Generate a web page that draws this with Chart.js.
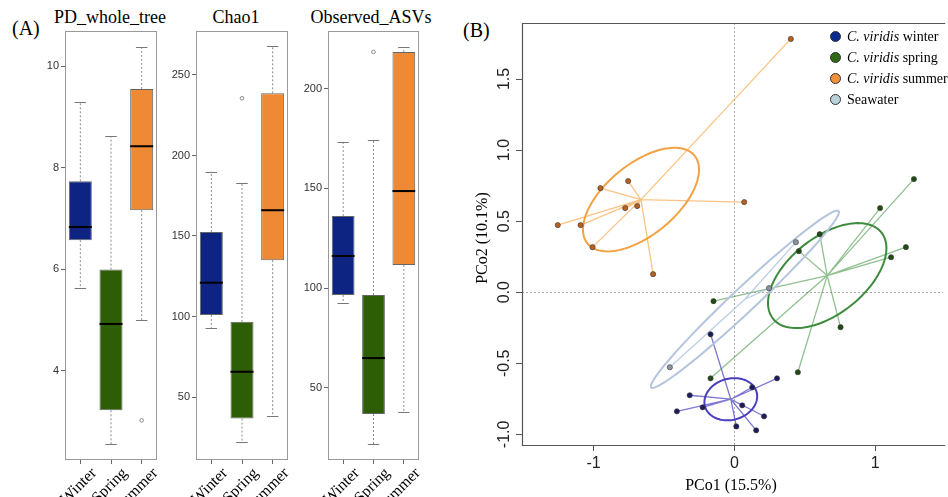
<!DOCTYPE html>
<html>
<head>
<meta charset="utf-8">
<script src="https://cdn.jsdelivr.net/npm/chart.js@4.4.1/dist/chart.umd.min.js"></script>
<style>
  body { margin: 0; background: #fff; width: 948px; height: 497px; overflow: hidden; position: relative; font-family: "Liberation Serif", serif; color: #000; }
  canvas { position: absolute; top: 0; }
  .lab { position: absolute; font-size: 20px; line-height: 20px; white-space: nowrap; }
  .ttl { position: absolute; font-size: 18px; line-height: 18px; white-space: nowrap; transform: translateX(-50%); }
  #legend { position: absolute; left: 830px; top: 26px; font-size: 14px; }
  #legend .row { height: 21px; line-height: 21px; white-space: nowrap; }
  #legend .dot { display: inline-block; width: 9px; height: 9px; border-radius: 50%; border: 1px solid #333; vertical-align: -1px; margin-right: 6px; }
</style>
</head>
<body>
<div class="lab" style="left:12px;top:18px">(A)</div>
<div class="lab" style="left:463px;top:20px">(B)</div>
<div class="ttl" style="left:110px;top:8px">PD_whole_tree</div>
<div class="ttl" style="left:236px;top:8px">Chao1</div>
<div class="ttl" style="left:371px;top:8px">Observed_ASVs</div>

<canvas id="pd" width="135" height="497" style="left:25px"></canvas>
<canvas id="chao" width="135" height="497" style="left:156px"></canvas>
<canvas id="asv" width="134" height="497" style="left:288px"></canvas>
<canvas id="pcoa" width="508" height="497" style="left:440px"></canvas>
<div id="legend"></div>

<script>
// ---- panel A: alpha diversity boxplots ----
const seasons = ['Winter', 'Spring', 'Summer'];
const boxColors = ['#0e2482', '#2d5e06', '#ee8a36'];

// PD_whole_tree
const pdLow = [5.63, 2.55, 5.00];
const pdQ1 = [6.57, 3.22, 7.16];
const pdMed = [6.83, 4.92, 8.42];
const pdQ3 = [7.73, 5.99, 9.55];
const pdHigh = [9.29, 8.62, 10.37];
const pdOut = [[], [], [3.02]];
const pdTicks = [4, 6, 8, 10];

// Chao1
const chaoLow = [93, 21.8, 38.5];
const chaoQ1 = [101, 36.6, 135];
const chaoMed = [121, 65.7, 166];
const chaoQ3 = [152.5, 96.7, 238.6];
const chaoHigh = [190, 182.8, 267.7];
const chaoOut = [[], [235.5], []];
const chaoTicks = [50, 100, 150, 200, 250];

// Observed_ASVs
const asvLow = [92.5, 21.6, 37.7];
const asvQ1 = [96.5, 36.7, 111.6];
const asvMed = [116.1, 64.8, 148.7];
const asvQ3 = [136.2, 96.5, 218.6];
const asvHigh = [173.4, 174.4, 221.1];
const asvOut = [[], [218.6], []];
const asvTicks = [50, 100, 150, 200];

// ---- panel B: PCoA ----
const winterX = [-0.169, -0.317, -0.408, -0.225, 0.127, 0.303, 0.056, 0.211, 0.014, 0.155];
const winterY = [-0.296, -0.725, -0.838, -0.810, -0.669, -0.606, -0.796, -0.873, -0.944, -0.972];
const springX = [1.275, 1.035, 0.606, 1.218, 0.458, 1.113, -0.148, 0.754, 0.451, -0.169];
const springY = [0.796, 0.592, 0.408, 0.317, 0.289, 0.246, -0.063, -0.246, -0.563, -0.606];
const summerX = [-1.254, -1.092, -0.951, -0.754, -0.775, -0.690, -1.007, -0.577, 0.401, 0.070];
const summerY = [0.472, 0.472, 0.732, 0.782, 0.592, 0.606, 0.317, 0.127, 1.782, 0.634];
const seaX = [0.437, 0.246, -0.458];
const seaY = [0.352, 0.028, -0.528];

// ellipse semi axes (PCo units) and tilt in degrees: winter, spring, summer, seawater
const ellMajor = [0.19, 0.49, 0.49, 0.91];
const ellMinor = [0.145, 0.27, 0.25, 0.085];
const ellAngle = [15, 38, 39, 43];

const pcoXTicks = [-1, 0, 1];
const pcoYTicks = [-1, -0.5, 0, 0.5, 1, 1.5];

const groups = [
  { species: 'C. viridis', name: 'winter', x: winterX, y: winterY, point: '#1c1c5c', key: '#0b2a8f', line: 'rgba(95,85,205,0.8)', ell: '#4a3fbf' },
  { species: 'C. viridis', name: 'spring', x: springX, y: springY, point: '#1f4a12', key: '#2e6a12', line: 'rgba(70,150,70,0.6)', ell: '#3d8b3d' },
  { species: 'C. viridis', name: 'summer', x: summerX, y: summerY, point: '#b8601f', key: '#f2913a', line: 'rgba(250,175,90,0.75)', ell: '#f2a243' },
  { species: '', name: 'Seawater', x: seaX, y: seaY, point: '#8c97a3', key: '#b9d2da', line: 'rgba(160,185,215,0.7)', ell: '#b3c5dd' }
];

function mean(a) { return a.reduce((s, v) => s + v, 0) / a.length; }

function makeBoxChart(id, st) {
  const extras = {
    id: 'boxExtras',
    afterDatasetsDraw(chart) {
      const { ctx, chartArea: a, scales: { y } } = chart;
      const meta = chart.getDatasetMeta(0);
      ctx.save();
      meta.data.forEach((bar, i) => {
        const cx = bar.x, half = bar.width / 2;
        // whiskers
        ctx.strokeStyle = '#8a8a8a';
        ctx.lineWidth = 1;
        ctx.setLineDash([2, 2]);
        ctx.beginPath();
        ctx.moveTo(cx, y.getPixelForValue(st.q3[i]));
        ctx.lineTo(cx, y.getPixelForValue(st.high[i]));
        ctx.moveTo(cx, y.getPixelForValue(st.q1[i]));
        ctx.lineTo(cx, y.getPixelForValue(st.low[i]));
        ctx.stroke();
        ctx.setLineDash([]);
        // caps
        ctx.strokeStyle = '#777';
        ctx.beginPath();
        [st.high[i], st.low[i]].forEach(v => {
          const py = Math.round(y.getPixelForValue(v)) + 0.5;
          ctx.moveTo(cx - half / 2, py);
          ctx.lineTo(cx + half / 2, py);
        });
        ctx.stroke();
        // median
        ctx.strokeStyle = '#000';
        ctx.lineWidth = 2;
        ctx.beginPath();
        const pm = y.getPixelForValue(st.med[i]);
        ctx.moveTo(cx - half, pm);
        ctx.lineTo(cx + half, pm);
        ctx.stroke();
        // outliers
        ctx.strokeStyle = '#888';
        ctx.lineWidth = 1;
        st.out[i].forEach(v => {
          ctx.beginPath();
          ctx.arc(cx, y.getPixelForValue(v), 1.8, 0, Math.PI * 2);
          ctx.stroke();
        });
      });
      // frame
      ctx.strokeStyle = '#999';
      ctx.lineWidth = 1;
      ctx.strokeRect(a.left + 0.5, a.top + 0.5, a.width - 1, a.height - 1);
      ctx.restore();
    }
  };

  return new Chart(document.getElementById(id), {
    type: 'bar',
    data: {
      labels: seasons,
      datasets: [{
        data: seasons.map((s, i) => [st.q1[i], st.q3[i]]),
        backgroundColor: boxColors,
        borderColor: '#666',
        borderWidth: 1,
        borderSkipped: false,
        barPercentage: 0.75,
        categoryPercentage: 1
      }]
    },
    options: {
      responsive: false,
      animation: false,
      events: [],
      layout: { padding: { top: 31, right: 3, left: 0, bottom: 0 } },
      plugins: { legend: { display: false }, tooltip: { enabled: false } },
      scales: {
        x: {
          offset: true,
          grid: { offset: false, drawOnChartArea: false, tickLength: 4, color: '#666' },
          border: { display: false },
          ticks: { autoSkip: false, minRotation: 45, maxRotation: 45, padding: 0, labelOffset: 14, color: '#000', font: { family: 'Liberation Serif', size: 16 } },
          afterFit: s => { s.height = 37; }
        },
        y: {
          min: st.min,
          max: st.max,
          afterBuildTicks: s => { s.ticks = st.ticks.map(v => ({ value: v })); },
          grid: { drawOnChartArea: false, tickLength: 4, color: '#666' },
          border: { display: false },
          ticks: { padding: 2, color: '#333', font: { family: 'Liberation Sans', size: 11 } },
          afterFit: s => { s.width = 40; }
        }
      }
    },
    plugins: [extras]
  });
}

makeBoxChart('pd', { low: pdLow, q1: pdQ1, med: pdMed, q3: pdQ3, high: pdHigh, out: pdOut, ticks: pdTicks, min: 2.24, max: 10.69 });
makeBoxChart('chao', { low: chaoLow, q1: chaoQ1, med: chaoMed, q3: chaoQ3, high: chaoHigh, out: chaoOut, ticks: chaoTicks, min: 10.9, max: 277.3 });
makeBoxChart('asv', { low: asvLow, q1: asvQ1, med: asvMed, q3: asvQ3, high: asvHigh, out: asvOut, ticks: asvTicks, min: 13.6, max: 229.1 });

// spiders, ellipses, frame and rotated labels for the PCoA
const pcoaDraw = {
  id: 'pcoaDraw',
  beforeDatasetsDraw(chart) {
    const { ctx, chartArea: a, scales: { x, y } } = chart;
    ctx.save();
    // zero reference lines
    ctx.strokeStyle = '#aaa';
    ctx.lineWidth = 1;
    ctx.setLineDash([2, 2]);
    ctx.beginPath();
    const x0 = Math.round(x.getPixelForValue(0)) + 0.5;
    const y0 = Math.round(y.getPixelForValue(0)) + 0.5;
    ctx.moveTo(x0, a.top); ctx.lineTo(x0, a.bottom);
    ctx.moveTo(a.left, y0); ctx.lineTo(a.right, y0);
    ctx.stroke();
    ctx.setLineDash([]);

    groups.forEach((g, gi) => {
      const mx = mean(g.x), my = mean(g.y);
      const cx = x.getPixelForValue(mx), cy = y.getPixelForValue(my);
      // spider lines
      ctx.strokeStyle = g.line;
      ctx.lineWidth = 1.3;
      ctx.beginPath();
      g.x.forEach((v, i) => {
        ctx.moveTo(cx, cy);
        ctx.lineTo(x.getPixelForValue(v), y.getPixelForValue(g.y[i]));
      });
      ctx.stroke();
      // dispersion ellipse
      const th = ellAngle[gi] * Math.PI / 180;
      ctx.strokeStyle = g.ell;
      ctx.lineWidth = 2;
      ctx.beginPath();
      for (let k = 0; k <= 120; k++) {
        const t = k / 120 * Math.PI * 2;
        const u = ellMajor[gi] * Math.cos(t), w = ellMinor[gi] * Math.sin(t);
        const px = x.getPixelForValue(mx + u * Math.cos(th) - w * Math.sin(th));
        const py = y.getPixelForValue(my + u * Math.sin(th) + w * Math.cos(th));
        if (k === 0) ctx.moveTo(px, py); else ctx.lineTo(px, py);
      }
      ctx.stroke();
    });
    ctx.restore();
  },
  afterDraw(chart) {
    const { ctx, chartArea: a, scales: { y } } = chart;
    ctx.save();
    // frame (right side falls off the page)
    ctx.strokeStyle = '#555';
    ctx.lineWidth = 1.2;
    ctx.beginPath();
    ctx.moveTo(a.right + 2, a.top + 0.5);
    ctx.lineTo(a.left + 0.5, a.top + 0.5);
    ctx.lineTo(a.left + 0.5, a.bottom + 0.5);
    ctx.lineTo(a.right + 2, a.bottom + 0.5);
    ctx.stroke();
    // y tick labels, parallel to axis
    ctx.fillStyle = '#222';
    ctx.font = '16px "Liberation Sans"';
    ctx.textAlign = 'center';
    ctx.textBaseline = 'middle';
    pcoYTicks.forEach(v => {
      ctx.save();
      ctx.translate(a.left - 17, y.getPixelForValue(v));
      ctx.rotate(-Math.PI / 2);
      ctx.fillText(v.toFixed(1), 0, 0);
      ctx.restore();
    });
    // axis titles
    ctx.fillStyle = '#000';
    ctx.font = '16px "Liberation Serif"';
    ctx.fillText('PCo1 (15.5%)', a.left + 209, a.bottom + 41);
    ctx.save();
    ctx.translate(a.left - 39, 238);
    ctx.rotate(-Math.PI / 2);
    ctx.fillText('PCo2 (10.1%)', 0, 0);
    ctx.restore();
    ctx.restore();
  }
};

new Chart(document.getElementById('pcoa'), {
  type: 'scatter',
  data: {
    datasets: groups.map(g => ({
      label: g.name,
      data: g.x.map((v, i) => ({ x: v, y: g.y[i] })),
      pointRadius: 2.6,
      pointBackgroundColor: g.point,
      pointBorderColor: 'rgba(60,60,60,0.8)',
      pointBorderWidth: 0.8
    }))
  },
  options: {
    responsive: false,
    animation: false,
    events: [],
    layout: { padding: { top: 23, right: 0, left: 0, bottom: 0 } },
    plugins: { legend: { display: false }, tooltip: { enabled: false } },
    scales: {
      x: {
        type: 'linear',
        min: -1.508,
        max: 1.483,
        afterBuildTicks: s => { s.ticks = pcoXTicks.map(v => ({ value: v })); },
        grid: { drawOnChartArea: false, tickLength: 6, color: '#555' },
        border: { display: false },
        ticks: { padding: 3, color: '#222', font: { family: 'Liberation Sans', size: 16 }, callback: v => String(v) },
        afterFit: s => { s.height = 52; }
      },
      y: {
        min: -1.075,
        max: 1.894,
        afterBuildTicks: s => { s.ticks = pcoYTicks.map(v => ({ value: v })); },
        grid: { drawOnChartArea: false, tickLength: 6, color: '#555' },
        border: { display: false },
        ticks: { display: false },
        afterFit: s => { s.width = 82; }
      }
    }
  },
  plugins: [pcoaDraw]
});

// legend with italic species name
const legend = document.getElementById('legend');
groups.forEach(g => {
  const row = document.createElement('div');
  row.className = 'row';
  const dot = document.createElement('span');
  dot.className = 'dot';
  dot.style.background = g.key;
  row.appendChild(dot);
  if (g.species) {
    const sp = document.createElement('i');
    sp.textContent = g.species;
    row.appendChild(sp);
    row.appendChild(document.createTextNode(' ' + g.name));
  } else {
    row.appendChild(document.createTextNode(g.name));
  }
  legend.appendChild(row);
});
</script>
</body>
</html>
